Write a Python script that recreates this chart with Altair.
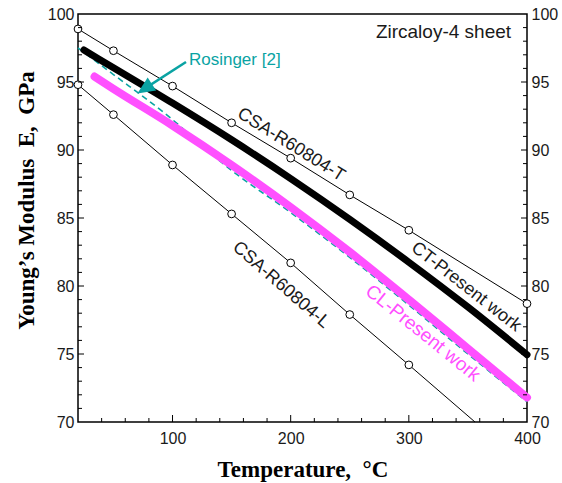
import altair as alt
import pandas as pd

# ---- data ----
csa_t_temp = [20, 50, 100, 150, 200, 250, 300, 400]
csa_t_mod = [98.9, 97.3, 94.7, 92.0, 89.4, 86.7, 84.1, 78.7]

csa_l_temp = [20, 50, 100, 150, 200, 250, 300]
csa_l_mod = [94.8, 92.6, 88.9, 85.3, 81.7, 77.9, 74.2]
csa_l_end_temp = [356]
csa_l_end_mod = [70.0]

ct_temp = [25, 50, 100, 150, 200, 250, 300, 350, 400]
ct_mod = [97.35, 96.05, 93.45, 90.75, 87.9, 84.9, 81.75, 78.45, 74.95]

cl_temp = [34, 50, 100, 150, 200, 250, 300, 350, 400]
cl_mod = [95.4, 94.5, 91.8, 88.9, 85.8, 82.5, 79.0, 75.4, 71.8]

ros_temp = [20, 50, 92, 150, 200, 250, 300, 350, 400]
ros_mod = [97.5, 95.55, 92.8, 88.5, 85.4, 82.1, 78.6, 75.0, 71.5]

x_labels = [100, 200, 300, 400]
x_major_ticks = [100, 200, 300]
x_minor_ticks = [40, 60, 80, 120, 140, 160, 180, 220, 240, 260, 280, 320, 340, 360, 380]
y_labels = [70, 75, 80, 85, 90, 95, 100]
y_major_ticks = [75, 80, 85, 90, 95]
y_minor_ticks = [v for v in range(71, 100) if v % 5 != 0]

W, H = 449, 408
TICK_FONT = "Liberation Sans"
TITLE_FONT = "Liberation Serif"
MAGENTA = "#ff50ff"
TEAL = "#0aa3a3"
NB = "\u00a0"

xscale = alt.Scale(domain=[20, 400], nice=False, zero=False)
yscale = alt.Scale(domain=[70, 100], nice=False, zero=False)

xaxis = alt.Axis(values=x_labels, ticks=False, domain=False, grid=False,
                 labelFont=TICK_FONT, labelFontSize=16, labelColor="#1a1a1a",
                 labelPadding=8, labelFlush=False, labelOverlap=False,
                 title=f"Temperature,{NB}{NB}°C", titleFont=TITLE_FONT, titleFontSize=23,
                 titleFontWeight="bold", titleColor="black",
                 titleBaseline="alphabetic", titleY=54)


def X(field):
    return alt.X(f"{field}:Q", scale=xscale, axis=xaxis)


def Y(field, axis=None):
    return alt.Y(f"{field}:Q", scale=yscale, axis=axis)


def df(t, e):
    return pd.DataFrame({"t": t, "e": e})


layers = []

# thin CSA lines
layers.append(alt.Chart(df(csa_t_temp, csa_t_mod)).mark_line(color="black", strokeWidth=1)
              .encode(x=X("t"), y=Y("e")))
layers.append(alt.Chart(df(csa_l_temp + csa_l_end_temp, csa_l_mod + csa_l_end_mod))
              .mark_line(color="black", strokeWidth=1).encode(x=X("t"), y=Y("e")))

# Rosinger dashed
layers.append(alt.Chart(df(ros_temp, ros_mod))
              .mark_line(color=TEAL, strokeWidth=1.6, strokeDash=[6, 4], interpolate="monotone")
              .encode(x=X("t"), y=Y("e")))
# CT and CL present work
layers.append(alt.Chart(df(ct_temp, ct_mod))
              .mark_line(color="black", strokeWidth=7, strokeCap="round", interpolate="monotone")
              .encode(x=X("t"), y=Y("e")))
layers.append(alt.Chart(df(cl_temp, cl_mod))
              .mark_line(color=MAGENTA, strokeWidth=8, strokeCap="round", interpolate="monotone")
              .encode(x=X("t"), y=Y("e")))

# open circles
for t, e in [(csa_t_temp, csa_t_mod), (csa_l_temp, csa_l_mod)]:
    layers.append(alt.Chart(df(t, e))
                  .mark_point(shape="circle", filled=True, fill="white", stroke="black",
                              strokeWidth=1, size=60, opacity=1, clip=False)
                  .encode(x=X("t"), y=Y("e")))

# arrow for Rosinger
arrow_temp = [111.4, 76.4]
arrow_mod = [96.47, 94.51]
layers.append(alt.Chart(df(arrow_temp, arrow_mod))
              .mark_line(color=TEAL, strokeWidth=2.5).encode(x=X("t"), y=Y("e")))
layers.append(alt.Chart(df(arrow_temp[1:], arrow_mod[1:]))
              .mark_point(shape="M0,-1L0.9,1L-0.9,1Z", filled=True, color=TEAL,
                          size=300, angle=237, opacity=1)
              .encode(x=X("t"), y=Y("e")))

# text labels
texts = [
    ("Rosinger [2]", 113.9, 96.62, 0, "left", TEAL, 17),
    ("Zircaloy-4 sheet", 386.5, 98.68, 0, "right", "#1a1a1a", 19),
    ("CSA-R60804-T", 200.3, 90.37, 32, "center", "#1a1a1a", 18),
    ("CSA-R60804-L", 191.8, 80.07, 41, "center", "#1a1a1a", 18),
    ("CT-Present work", 348.4, 79.93, 38, "center", "#1a1a1a", 18),
    ("CL-Present work", 312.0, 76.54, 39, "center", MAGENTA, 19),
]
for txt, t, e, ang, al, col, fs in texts:
    layers.append(alt.Chart(pd.DataFrame({"t": [t], "e": [e], "s": [txt]}))
                  .mark_text(font=TICK_FONT, fontSize=fs, color=col, align=al,
                             baseline="middle", angle=ang)
                  .encode(x=X("t"), y=Y("e"), text="s:N"))

# tick marks (inward)
def tdf(v):
    return pd.DataFrame({"v": v})

layers.append(alt.Chart(tdf(x_major_ticks)).mark_rule(color="black", strokeWidth=1)
              .encode(x=X("v"), y=alt.value(H), y2=alt.value(H - 7)))
layers.append(alt.Chart(tdf(x_minor_ticks)).mark_rule(color="black", strokeWidth=1)
              .encode(x=X("v"), y=alt.value(H), y2=alt.value(H - 4)))

left_axis = alt.Axis(values=y_labels, ticks=False, domain=False, grid=False,
                     labelFont=TICK_FONT, labelFontSize=16, labelColor="#1a1a1a",
                     labelPadding=4, labelFlush=False, labelOverlap=False,
                     title=f"Young’s{NB}Modulus{NB}{NB}E,{NB}{NB}GPa", titleFont=TITLE_FONT,
                     titleFontSize=23, titleFontWeight="bold", titleColor="black", titleAngle=270,
                     titleBaseline="middle", titleAlign="center", titleX=-52, titleY=186)
right_axis = alt.Axis(values=y_labels, ticks=False, domain=False, grid=False, orient="right",
                      labelFont=TICK_FONT, labelFontSize=16, labelColor="#1a1a1a",
                      labelPadding=4, labelFlush=False, labelOverlap=False, title=None)

layers.append(alt.Chart(tdf(y_major_ticks)).mark_rule(color="black", strokeWidth=1)
              .encode(y=Y("v", left_axis), x=alt.value(0), x2=alt.value(6)))
layers.append(alt.Chart(tdf(y_minor_ticks)).mark_rule(color="black", strokeWidth=1)
              .encode(y=Y("v", right_axis), x=alt.value(0), x2=alt.value(4)))
layers.append(alt.Chart(tdf(y_major_ticks)).mark_rule(color="black", strokeWidth=1)
              .encode(y=Y("v"), x=alt.value(W), x2=alt.value(W - 6)))
layers.append(alt.Chart(tdf(y_minor_ticks)).mark_rule(color="black", strokeWidth=1)
              .encode(y=Y("v"), x=alt.value(W), x2=alt.value(W - 4)))

chart = (alt.layer(*layers)
         .resolve_axis(y="independent")
         .properties(width=W, height=H, autosize=alt.AutoSizeParams(type="none"),
                     padding={"left": 78, "top": 14, "right": 35, "bottom": 61},
                     background="white")
         .configure_view(stroke="black", strokeWidth=1.5))

chart.save("out.html", embed_options={"renderer": "svg", "actions": False})
